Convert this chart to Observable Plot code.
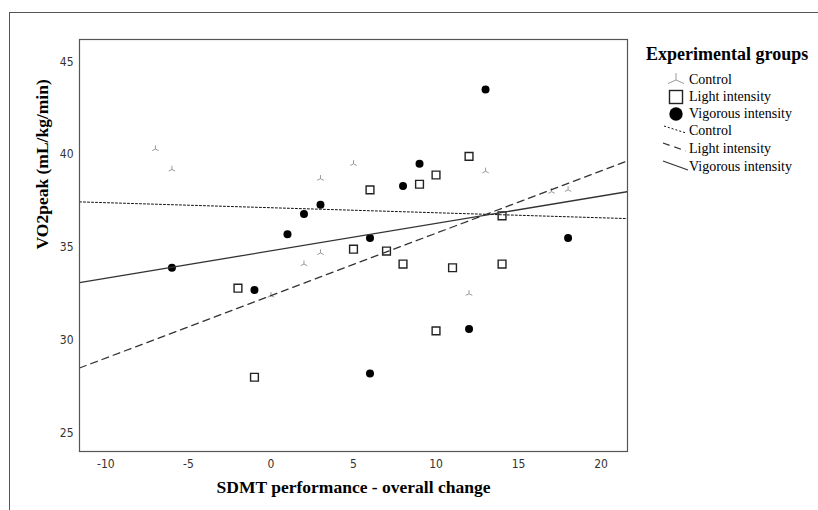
<!DOCTYPE html>
<html>
<head>
<meta charset="utf-8">
<script src="https://cdn.jsdelivr.net/npm/d3@7"></script>
<script src="https://cdn.jsdelivr.net/npm/@observablehq/plot@0.6"></script>
<style>
  body { margin: 0; background: #fff; }
  #wrap { position: relative; width: 818px; height: 510px; overflow: hidden; background: #fff;
          font-family: "Liberation Serif", "Times New Roman", serif; }
  #outer { position: absolute; left: 9px; top: 12px; width: 900px; height: 600px;
           border-top: 1px solid #555; border-left: 1px solid #555; pointer-events: none; }
  #chart { position: absolute; left: 0; top: 0; }
  #legend { position: absolute; left: 0; top: 0; width: 818px; height: 510px; pointer-events: none; }
  .lg-title { position: absolute; left: 646px; top: 44px; font-weight: bold; font-size: 18px; color: #000; white-space: nowrap; }
  .lg-item { position: absolute; left: 689px; font-size: 14px; color: #000; white-space: nowrap; line-height: 16px; }
  .lg-sym { position: absolute; }
</style>
</head>
<body>
<div id="wrap">
  <div id="chart"></div>
  <div id="outer"></div>
  <div id="legend"></div>
</div>
<script>
// ---- Data ----
const xDomain = [-11.6, 21.6];
const yDomain = [24, 46.2];
const xTicks = [-10, -5, 0, 5, 10, 15, 20];
const yTicks = [25, 30, 35, 40, 45];

const groups = ["Control", "Light intensity", "Vigorous intensity"];

const controlX = [-7, -6, 0, 2, 3, 3, 5, 6, 12, 13, 17, 18];
const controlY = [40.3, 39.2, 32.4, 34.1, 34.7, 38.7, 39.5, 38.0, 32.5, 39.1, 38.0, 38.1];

const lightX = [-2, -1, 5, 6, 7, 8, 9, 10, 10, 11, 12, 14, 14];
const lightY = [32.8, 28.0, 34.9, 38.1, 34.8, 34.1, 38.4, 38.9, 30.5, 33.9, 39.9, 36.7, 34.1];

const vigorousX = [-6, -1, 1, 2, 3, 6, 6, 8, 9, 12, 13, 18];
const vigorousY = [33.9, 32.7, 35.7, 36.8, 37.3, 35.5, 28.2, 38.3, 39.5, 30.6, 43.5, 35.5];

// fit lines: value at the left and right edge of the x axis
const fitX = [-11.6, 21.6];
const controlFit = [37.45, 36.55];
const lightFit = [28.5, 39.66];
const vigorousFit = [33.1, 38.0];

const xLabel = "SDMT performance - overall change";
const yLabel = "VO2peak (mL/kg/min)";
const legendTitle = "Experimental groups";

// ---- Build tables ----
const toRows = (xs, ys) => xs.map((x, i) => ({x, y: ys[i]}));
const control = toRows(controlX, controlY);
const light = toRows(lightX, lightY);
const vigorous = toRows(vigorousX, vigorousY);
const controlLine = toRows(fitX, controlFit);
const lightLine = toRows(fitX, lightFit);
const vigorousLine = toRows(fitX, vigorousFit);

// SPSS-like triad marker
const triad = {
  draw(ctx, size) {
    const r = Math.sqrt(size / Math.PI);
    ctx.moveTo(0, 0); ctx.lineTo(0, -r);
    ctx.moveTo(0, 0); ctx.lineTo(-r * 0.9, r * 0.45);
    ctx.moveTo(0, 0); ctx.lineTo(r * 0.9, r * 0.45);
  }
};

const serif = '"Liberation Serif", "Times New Roman", serif';
const narrow = '"DejaVu Sans Condensed", "Liberation Sans Narrow", "Arial Narrow", "Liberation Sans", Arial, sans-serif';

const chart = Plot.plot({
  width: 818,
  height: 510,
  marginLeft: 79,
  marginRight: 191,
  marginTop: 39,
  marginBottom: 59,
  style: {background: "transparent", fontFamily: narrow, fontSize: "12px", color: "#333"},
  x: {domain: xDomain},
  y: {domain: yDomain},
  marks: [
    Plot.axisX({ticks: xTicks, tickFormat: d => String(d), tickSize: 0, tickPadding: 8, label: null,
                fontSize: 12, fontFamily: narrow, fill: "#333"}),
    Plot.axisY({ticks: yTicks, tickFormat: d => String(d), tickSize: 0, tickPadding: 6, label: null,
                fontSize: 12, fontFamily: narrow, fill: "#333"}),
    Plot.dot(control, {x: "x", y: "y", symbol: triad, r: 3.6, stroke: "#9a9a9a", fill: "none", strokeWidth: 1}),
    Plot.dot(light, {x: "x", y: "y", symbol: "square", r: 4.4, stroke: "#222", fill: "#fff", strokeWidth: 1.4}),
    Plot.dot(vigorous, {x: "x", y: "y", r: 4, fill: "#000", stroke: "none"}),
    Plot.line(controlLine, {x: "x", y: "y", stroke: "#111", strokeWidth: 1, strokeDasharray: "2,2", clip: true}),
    Plot.line(lightLine, {x: "x", y: "y", stroke: "#333", strokeWidth: 1.3, strokeDasharray: "7,5", clip: true}),
    Plot.line(vigorousLine, {x: "x", y: "y", stroke: "#333", strokeWidth: 1.3, clip: true}),
    Plot.frame({stroke: "#555", strokeWidth: 1.2}),
    Plot.text([yLabel], {frameAnchor: "left", dx: -37, dy: 4, rotate: -90, fontWeight: "bold",
                         fontSize: 17.5, fontFamily: serif, fill: "#000"}),
    Plot.text([xLabel], {frameAnchor: "bottom", dy: 41, fontWeight: "bold",
                         fontSize: 17.5, fontFamily: serif, fill: "#000"})
  ]
});
document.getElementById("chart").appendChild(chart);

// ---- Legend (HTML overlay with small SVG swatches) ----
const legend = document.getElementById("legend");
const title = document.createElement("div");
title.className = "lg-title";
title.textContent = legendTitle;
legend.appendChild(title);

const rowsY = [80, 97, 114, 131, 149, 167];
const swatches = [
  `<svg width="20" height="20" viewBox="-10 -10 20 20"><path d="M0,0V-7M0,0L-8,3.5M0,0L8,3.5" stroke="#9a9a9a" fill="none" stroke-width="1"/></svg>`,
  `<svg width="20" height="20" viewBox="-10 -10 20 20"><rect x="-6.5" y="-6.5" width="13" height="13" stroke="#222" fill="#fff" stroke-width="1.4"/></svg>`,
  `<svg width="20" height="20" viewBox="-10 -10 20 20"><circle r="6.7" fill="#000"/></svg>`,
  `<svg width="28" height="14" viewBox="0 0 28 14"><line x1="2" y1="3" x2="24" y2="10" stroke="#111" stroke-width="1" stroke-dasharray="2,2"/></svg>`,
  `<svg width="28" height="14" viewBox="0 0 28 14"><line x1="1" y1="2" x2="24" y2="10" stroke="#333" stroke-width="1.3" stroke-dasharray="7,5"/></svg>`,
  `<svg width="28" height="14" viewBox="0 0 28 14"><line x1="1" y1="2" x2="26" y2="11" stroke="#333" stroke-width="1.3"/></svg>`
];
const labels = [groups[0], groups[1], groups[2], groups[0], groups[1], groups[2]];
labels.forEach((lab, i) => {
  const sym = document.createElement("div");
  sym.className = "lg-sym";
  if (i < 3) { sym.style.left = "666px"; sym.style.top = (rowsY[i] - 10) + "px"; }
  else { sym.style.left = "662px"; sym.style.top = (rowsY[i] - 8) + "px"; }
  sym.innerHTML = swatches[i];
  legend.appendChild(sym);
  const t = document.createElement("div");
  t.className = "lg-item";
  t.style.top = (rowsY[i] - 8) + "px";
  t.textContent = lab;
  legend.appendChild(t);
});
</script>
</body>
</html>
